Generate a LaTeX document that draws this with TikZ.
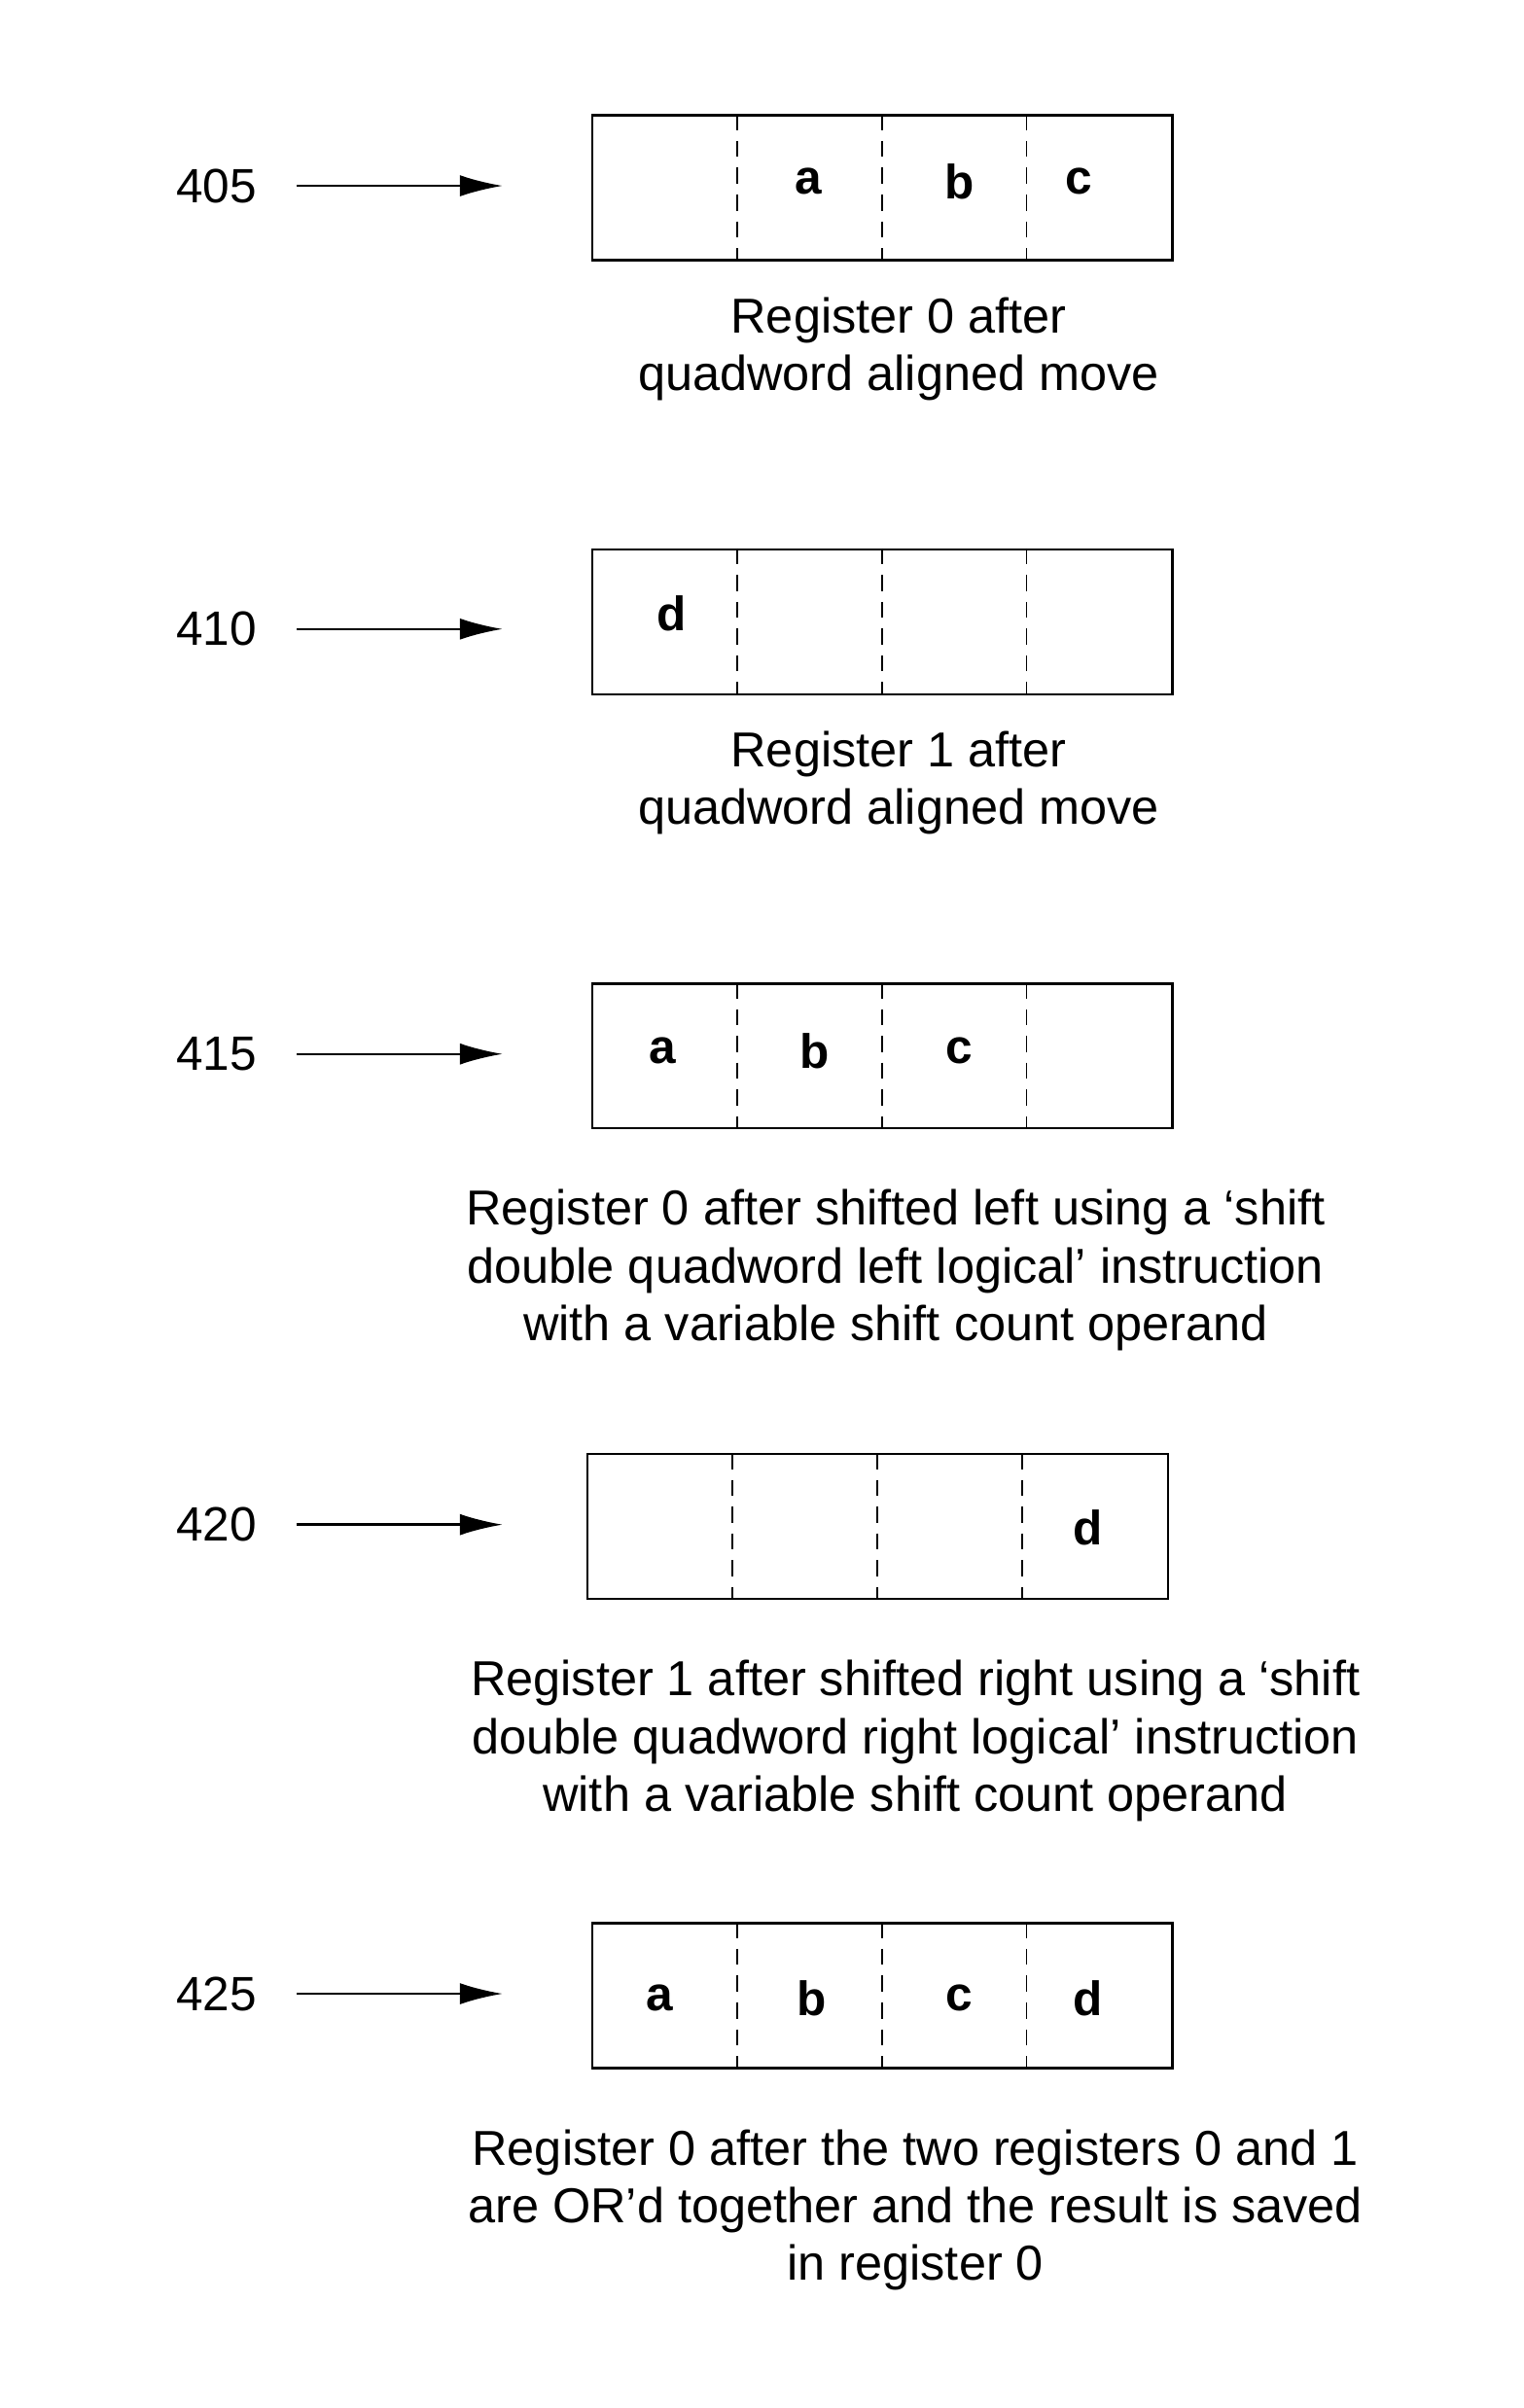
\documentclass[tikz,border=0pt]{standalone}
\usepackage{fontspec}
\setmainfont{Liberation Sans}
\usetikzlibrary{arrows.meta}
\begin{document}
\begin{tikzpicture}[x=0.03cm,y=-0.03cm,
  reg/.style={draw,line width=1.3pt},
  div/.style={line width=1pt,dash pattern=on 9pt off 6pt},
  lbl/.style={font=\fontsize{27}{32}\selectfont},
  let/.style={font=\fontsize{27}{32}\selectfont\bfseries},
  capt/.style={font=\fontsize{27.5}{32.3}\selectfont,align=center},
  arr/.style={-{Latex[length=24pt,width=12pt]},line width=1.3pt}]
\useasboundingbox (0,0) rectangle (1000,1581);
\newcommand{\myreg}[3]{%
  \node[reg,minimum width=381*0.03cm,minimum height=95*0.03cm,anchor=north west,inner sep=0] (#1) at (#2,#3) {};
  \foreach \d in {96,191,286} \draw[div] (#2+\d,#3) -- (#2+\d,#3+95);
}
% 405
\myreg{r405}{388}{75}
\node[lbl] (n405) at (142,122) {405};
\coordinate (s405) at (195,122); \coordinate (e405) at (330,122);
\draw[arr] (s405) -- (e405);
\node[let] (a1) at (531,119) {a};
\node[let] (b1) at (630,119) {b};
\node[let] (c1) at (708,119) {c};
\node[capt] (t405) at (590,229) {Register 0 after\\quadword aligned move};
% 410
\myreg{r410}{388}{360}
\node[lbl] (n410) at (142,413) {410};
\coordinate (s410) at (195,413); \coordinate (e410) at (330,413);
\draw[arr] (s410) -- (e410);
\node[let] (d2) at (441,403) {d};
\node[capt] (t410) at (590,514) {Register 1 after\\quadword aligned move};
% 415
\myreg{r415}{388}{645}
\node[lbl] (n415) at (142,692) {415};
\coordinate (s415) at (195,692); \coordinate (e415) at (330,692);
\draw[arr] (s415) -- (e415);
\node[let] (a3) at (435,690) {a};
\node[let] (b3) at (535,690) {b};
\node[let] (c3) at (630,690) {c};
\node[capt] (t415) at (588,834) {Register 0 after shifted left using a ‘shift\\double quadword left logical’ instruction\\with a variable shift count operand};
% 420
\myreg{r420}{385}{954}
\node[lbl] (n420) at (142,1001) {420};
\coordinate (s420) at (195,1001); \coordinate (e420) at (330,1001);
\draw[arr] (s420) -- (e420);
\node[let] (d4) at (714,1003) {d};
\node[capt] (t420) at (601,1143) {Register 1 after shifted right using a ‘shift\\double quadword right logical’ instruction\\with a variable shift count operand};
% 425
\myreg{r425}{388}{1262}
\node[lbl] (n425) at (142,1309) {425};
\coordinate (s425) at (195,1309); \coordinate (e425) at (330,1309);
\draw[arr] (s425) -- (e425);
\node[let] (a5) at (433,1312) {a};
\node[let] (b5) at (533,1312) {b};
\node[let] (c5) at (630,1312) {c};
\node[let] (d5) at (714,1312) {d};
\node[capt] (t425) at (601,1451) {Register 0 after the two registers 0 and 1\\are OR’d together and the result is saved\\in register 0};
\end{tikzpicture}
\end{document}
